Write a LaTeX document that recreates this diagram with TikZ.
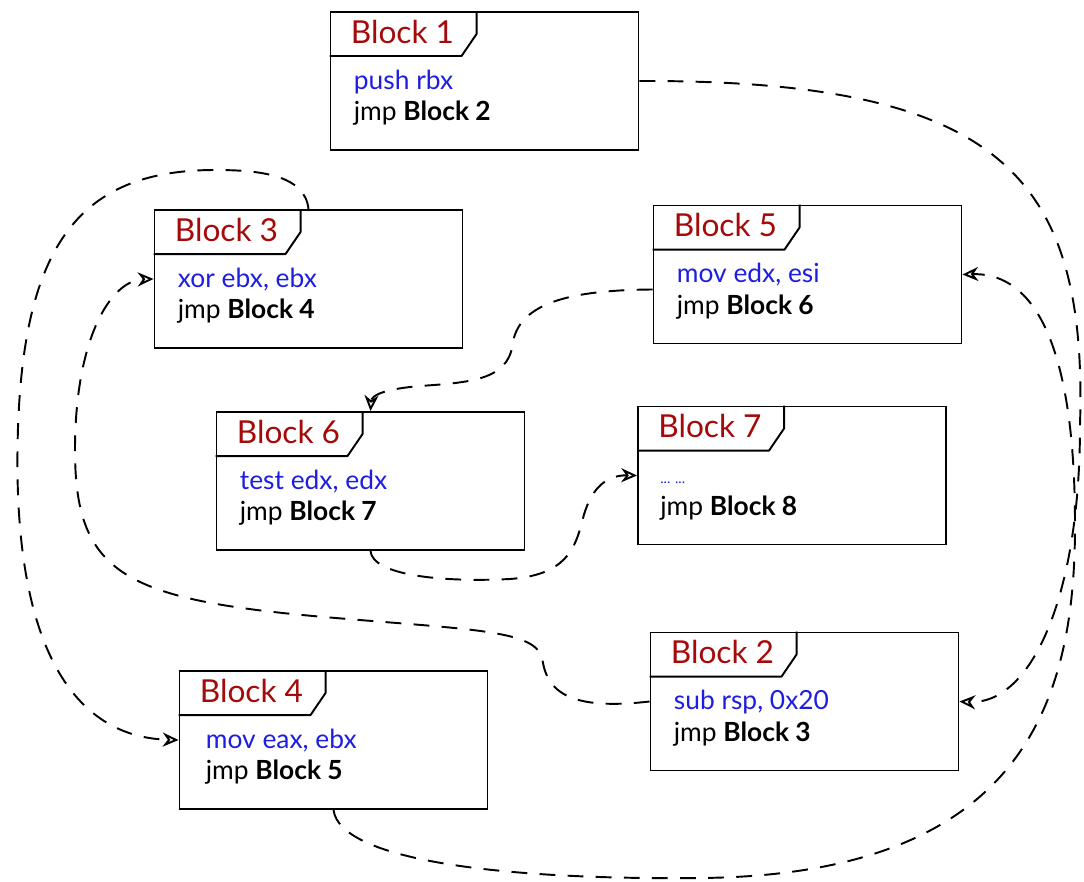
\documentclass[tikz,border=0pt]{standalone}
\usepackage{fontspec}
\setmainfont{Lato}
\usetikzlibrary{arrows.meta}
\definecolor{hdred}{RGB}{165,10,10}
\definecolor{asmblue}{RGB}{30,30,225}
\tikzset{
block/.style={draw, line width=1.1pt, minimum width=6.16cm, minimum height=2.76cm}, % one basic block
tab/.style={line width=1.1pt, line join=round}, % the label tab in the top left corner
title/.style={anchor=base west, inner sep=0pt, text=hdred, font=\fontsize{18}{21}\selectfont},
code/.style={anchor=base west, inner sep=0pt, text=asmblue, font=\fontsize{15}{18}\selectfont},
jump/.style={code, text=black},
flow/.style={-{Stealth[open, length=9pt, width=8pt]}, line width=1.1pt, dash pattern=on 9pt off 7pt}, % control flow edge
}

\begin{document}
\begin{tikzpicture}
\useasboundingbox (0,0) rectangle (21.68,-17.64);

% the blocks
\node[block] at (9.69,-1.62) (b1) {};
\node[block] at (16.09,-14.03) (b2) {};
\node[block] at (6.17,-5.58) (b3) {};
\node[block] at (6.67,-14.80) (b4) {};
\node[block] at (16.15,-5.49) (b5) {};
\node[block] at (7.41,-9.62) (b6) {};
\node[block] at (15.84,-9.51) (b7) {};

% tabs and titles
\foreach \b in {1,...,7}{
  \draw[tab] ([xshift=2.94cm]b\b.north west) -- ++(0,-0.46) -- ++(-0.3,-0.44) -- ([yshift=-0.9cm]b\b.north west);
  \node[title] at ([shift={(0.42,-0.64)}]b\b.north west) (t\b) {Block \b};
}

% instructions
\node[code] at ([shift={(0.48,-1.56)}]b1.north west) (c1) {push rbx};
\node[jump] at ([shift={(0.48,-2.19)}]b1.north west) (j1) {jmp \textbf{Block 2}};
\node[code] at ([shift={(0.48,-1.56)}]b2.north west) (c2) {sub rsp, 0x20};
\node[jump] at ([shift={(0.48,-2.19)}]b2.north west) (j2) {jmp \textbf{Block 3}};
\node[code] at ([shift={(0.48,-1.56)}]b3.north west) (c3) {xor ebx, ebx};
\node[jump] at ([shift={(0.48,-2.19)}]b3.north west) (j3) {jmp \textbf{Block 4}};
\node[code] at ([shift={(0.54,-1.56)}]b4.north west) (c4) {mov eax, ebx};
\node[jump] at ([shift={(0.54,-2.19)}]b4.north west) (j4) {jmp \textbf{Block 5}};
\node[code] at ([shift={(0.48,-1.56)}]b5.north west) (c5) {mov edx, esi};
\node[jump] at ([shift={(0.48,-2.19)}]b5.north west) (j5) {jmp \textbf{Block 6}};
\node[code] at ([shift={(0.48,-1.56)}]b6.north west) (c6) {test edx, edx};
\node[jump] at ([shift={(0.48,-2.19)}]b6.north west) (j6) {jmp \textbf{Block 7}};
\node[code, font=\fontsize{8}{10}\selectfont] at ([shift={(0.46,-1.56)}]b7.north west) (c7) {... ...};
\node[jump] at ([shift={(0.46,-2.19)}]b7.north west) (j7) {jmp \textbf{Block 8}};

% jumps
\draw[flow] (b1.east) .. controls (20,-1.6) and (21.75,-3.5) .. (21.6,-8.5)
  .. controls (21.6,-12) and (20.6,-14.1) .. (b2.east);
\draw[flow] (b2.west) .. controls (11.5,-14.2) and (10.95,-13.9) .. (10.85,-13.2)
  .. controls (10.75,-12.6) and (9.5,-12.6) .. (6.6,-12.35)
  .. controls (2.5,-12) and (1.5,-11.5) .. (1.5,-9)
  .. controls (1.5,-6.8) and (2.2,-5.6) .. (b3.west);
\draw[flow] (b3.north) .. controls (6.1,-3.5) and (5.2,-3.4) .. (4.3,-3.4)
  .. controls (1.5,-3.4) and (0.4,-5) .. (0.35,-9)
  .. controls (0.3,-13) and (1.5,-14.75) .. (b4.west);
\draw[flow] (b4.south) .. controls (6.8,-17.2) and (10,-17.6) .. (14,-17.56)
  .. controls (20.5,-17.5) and (21.5,-14) .. (21.5,-10.5)
  .. controls (21.5,-6.5) and (20.5,-5.45) .. (b5.east);
\draw[flow] ([yshift=-0.3cm]b5.west) .. controls (11.3,-5.8) and (10.35,-6.1) .. (10.25,-6.9)
  .. controls (10.15,-7.6) and (9.4,-7.65) .. (8.4,-7.72)
  .. controls (7.7,-7.78) and (7.43,-7.9) .. (b6.north);
\draw[flow] (b6.south) .. controls (7.45,-11.5) and (8.8,-11.65) .. (10.2,-11.58)
  .. controls (11.3,-11.5) and (11.5,-11) .. (11.65,-10.4)
  .. controls (11.8,-9.8) and (12.1,-9.5) .. (b7.west);

\end{tikzpicture}
\end{document}
